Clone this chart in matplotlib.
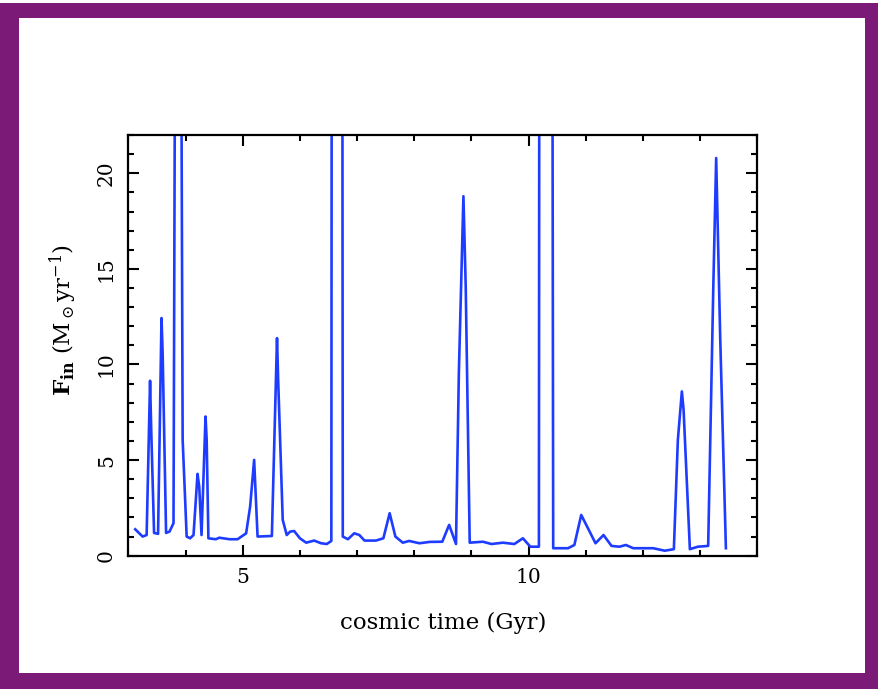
import matplotlib
matplotlib.use("Agg")
import matplotlib.pyplot as plt
from matplotlib.patches import Rectangle

# cosmic time (Gyr) and inflow rate F_in (Msun/yr); values above 22 run off the top
time_gyr = [3.12, 3.25, 3.32, 3.38, 3.40, 3.45, 3.52, 3.58, 3.60, 3.66,
            3.72, 3.79, 3.83, 3.91, 3.95, 4.02, 4.08, 4.14, 4.21, 4.24,
            4.28, 4.35, 4.37, 4.40, 4.53, 4.59, 4.77, 4.91, 5.06, 5.13,
            5.20, 5.26, 5.51, 5.60, 5.62, 5.70, 5.77, 5.83, 5.90, 6.00,
            6.11, 6.25, 6.37, 6.47, 6.55, 6.56, 6.74, 6.75, 6.84, 6.95,
            7.04, 7.13, 7.33, 7.46, 7.57, 7.67, 7.80, 7.91, 8.09, 8.27,
            8.49, 8.61, 8.73, 8.78, 8.86, 8.90, 8.97, 9.20, 9.35, 9.55,
            9.75, 9.90, 10.03, 10.18, 10.19, 10.41, 10.43, 10.69, 10.80, 10.92,
            11.17, 11.31, 11.45, 11.59, 11.70, 11.83, 12.18, 12.38, 12.54, 12.61,
            12.68, 12.71, 12.82, 12.96, 13.14, 13.23, 13.28, 13.35, 13.45]
f_in = [1.38, 1.00, 1.08, 9.15, 6.60, 1.19, 1.14, 12.43, 10.60, 1.19,
        1.26, 1.70, 40.0, 40.0, 6.06, 1.00, 0.91, 1.08, 4.28, 3.60,
        1.08, 7.28, 6.06, 0.91, 0.86, 0.94, 0.86, 0.86, 1.17, 2.57,
        5.01, 1.00, 1.03, 11.38, 9.20, 1.87, 1.08, 1.26, 1.29, 0.91,
        0.68, 0.79, 0.65, 0.61, 0.77, 40.0, 40.0, 1.00, 0.86, 1.17,
        1.08, 0.79, 0.79, 0.91, 2.22, 1.00, 0.68, 0.77, 0.65, 0.72,
        0.73, 1.61, 0.61, 9.55, 18.80, 14.08, 0.68, 0.73, 0.61, 0.68,
        0.61, 0.91, 0.47, 0.47, 40.0, 40.0, 0.39, 0.39, 0.56, 2.13,
        0.65, 1.08, 0.51, 0.47, 0.56, 0.39, 0.39, 0.26, 0.34, 6.06,
        8.59, 7.63, 0.34, 0.47, 0.51, 14.08, 20.80, 11.47, 0.39]

x_ticks = [5, 10]
y_ticks = [0, 5, 10, 15, 20]

plt.rcParams['font.family'] = ['DejaVu Serif']
plt.rcParams['mathtext.fontset'] = 'dejavuserif'

fig = plt.figure(figsize=(8.79, 6.89), dpi=100)
fig.patch.set_facecolor('white')

# purple slide frame
fig.patches.append(Rectangle((0.0, 0.0), 1.0, 0.995, transform=fig.transFigure,
                             facecolor='#7b1b77', edgecolor='none', zorder=-2))
fig.patches.append(Rectangle((0.0216, 0.0232), 0.9624, 0.9507, transform=fig.transFigure,
                             facecolor='white', edgecolor='none', zorder=-1))

ax = fig.add_axes([0.146, 0.1935, 0.7156, 0.6105])
ax.set_zorder(1)
ax.plot(time_gyr, f_in, color='#1e3cff', lw=1.9)

ax.set_xlim(3, 14)
ax.set_ylim(0, 22)
ax.set_xticks(x_ticks)
ax.set_yticks(y_ticks)
ax.set_xticks(range(3, 15), minor=True)
ax.set_yticks(range(0, 23), minor=True)
ax.tick_params(which='both', direction='in', top=True, right=True, width=1.5,
               labelsize=14.5)
ax.tick_params(which='major', length=8)
ax.tick_params(which='minor', length=4)
ax.tick_params(axis='x', pad=9)
ax.tick_params(axis='y', pad=9)
for lbl in ax.get_yticklabels():
    lbl.set_rotation(90)
    lbl.set_va('center')
for s in ax.spines.values():
    s.set_linewidth(1.6)

ax.set_xlabel('cosmic time (Gyr)', fontsize=16.5, labelpad=18)
ax.set_ylabel(r'$\mathbf{F_{in}}$ (M$_\odot$yr$^{-1}$)', fontsize=16.5)
ax.yaxis.set_label_coords(-0.078, 0.56)

fig.savefig('out.png', dpi=100)
